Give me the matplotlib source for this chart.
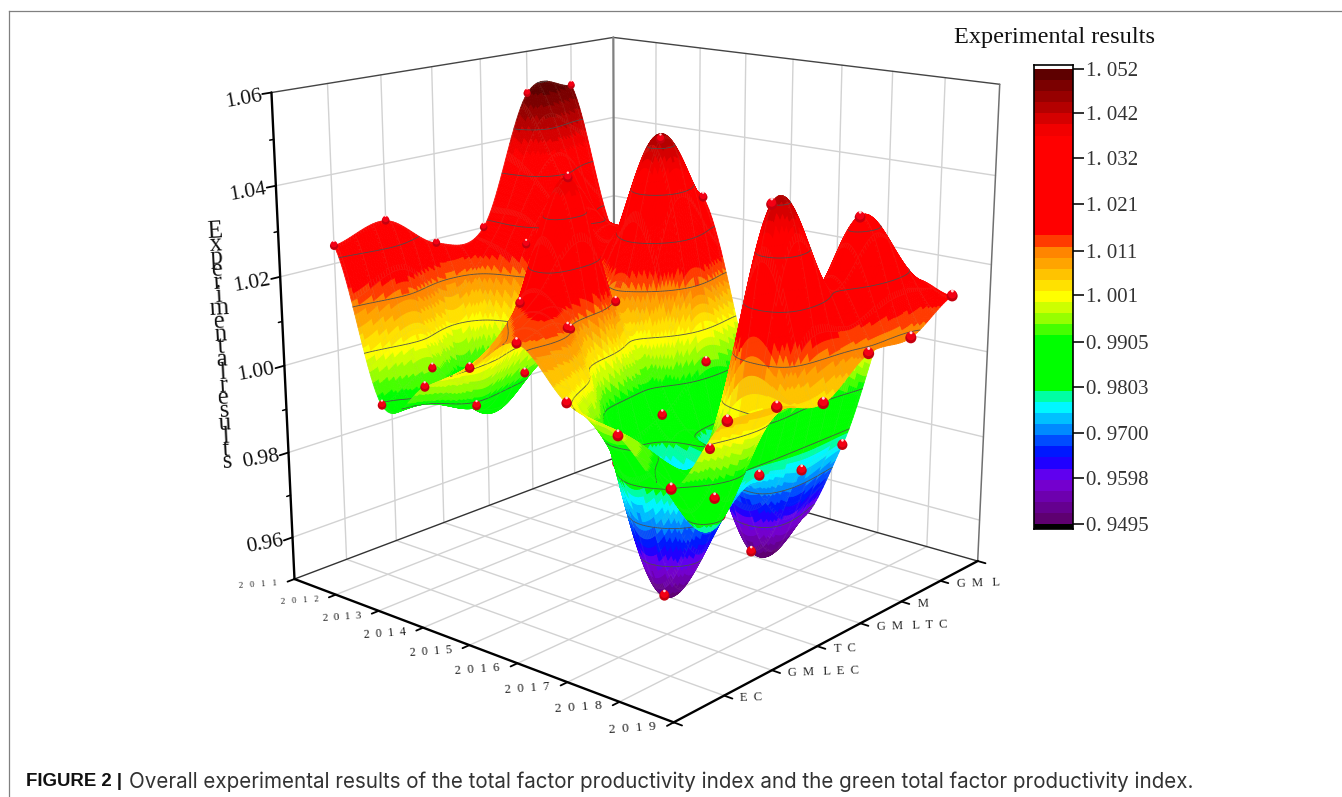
import numpy as np
import matplotlib
matplotlib.use('Agg')
import matplotlib.pyplot as plt
from matplotlib.colors import LinearSegmentedColormap, BoundaryNorm, ListedColormap, to_rgb
from matplotlib.lines import Line2D
from mpl_toolkits.mplot3d import proj3d
from mpl_toolkits.mplot3d.art3d import Poly3DCollection

plt.rcParams['font.family'] = ['Liberation Serif', 'DejaVu Serif']

#--------------data------------------------------------------
years = [2011, 2012, 2013, 2014, 2015, 2016, 2017, 2018, 2019]
categories = ['E  C', 'G  M   L  E  C', 'T  C', 'G  M   L  T  C', 'M', 'G  M   L']
year_labels = ['2   0   1   1', '2   0   1   2', '2  0  1  3', '2  0  1  4', '2  0  1  5',
               '2  0  1  6', '2  0  1  7', '2  0  1  8', '2  0  1  9']
#one row per year, one column per category
values_2011 = [1.024, 1.027, 1.019, 1.020, 1.050, 1.050]
values_2012 = [0.990, 0.995, 0.985, 1.018, 1.030, 1.015]
values_2013 = [0.997, 0.989, 0.993, 1.000, 1.020, 1.020]
values_2014 = [1.004, 1.015, 1.040, 1.009, 1.044, 1.028]
values_2015 = [1.012, 1.012, 0.985, 0.985, 0.994, 0.990]
values_2016 = [1.002, 0.985, 0.950, 0.980, 0.951, 0.955]
values_2017 = [0.998, 0.988, 0.976, 0.977, 0.974, 0.976]
values_2018 = [0.990, 0.980, 1.042, 1.022, 1.034, 1.015]
values_2019 = [1.007, 1.006, 1.003, 1.010, 1.010, 1.016]
#points that the surface covers (year, category number)
covered = [(2012, 3), (2012, 5), (2012, 6), (2013, 5), (2013, 6), (2015, 3), (2015, 6),
           (2016, 2), (2016, 6), (2017, 2), (2018, 2), (2018, 4), (2018, 6)]

z_ticks = [0.96, 0.98, 1.00, 1.02, 1.04, 1.06]
z_tick_labels = ['0.96', '0.98', '1.00', '1.02', '1.04', '1.06']
z_minor = [0.97, 0.99, 1.01, 1.03, 1.05]
cbar_ticks = [1.052, 1.042, 1.032, 1.0215, 1.011, 1.001, 0.9905, 0.9803, 0.970, 0.9598, 0.9495]
cbar_labels = ['1. 052', '1. 042', '1. 032', '1. 021', '1. 011', '1. 001',
               '0. 9905', '0. 9803', '0. 9700', '0. 9598', '0. 9495']
color_stops = [(0.9495, '#5a0060'), (0.9598, '#7a00e6'), (0.9625, '#3000ff'), (0.9645, '#0000ff'),
               (0.970, '#0078ff'), (0.976, '#00ffff'), (0.9785, '#00ff90'), (0.9803, '#00ff00'),
               (0.9912, '#00ff00'), (0.9965, '#b0ff00'), (1.001, '#ffff00'), (1.006, '#ffc000'),
               (1.011, '#ff8000'), (1.0155, '#ff0000'), (1.0372, '#ff0000'), (1.052, '#500000')]

values = np.array([values_2011, values_2012, values_2013, values_2014, values_2015,
                   values_2016, values_2017, values_2018, values_2019])
cat_pos = np.arange(1, len(categories) + 1)

#--------------colours---------------------
lo, hi = color_stops[0][0], color_stops[-1][0]
smooth_cmap = LinearSegmentedColormap.from_list(
    'origin', [((v - lo) / (hi - lo), c) for v, c in color_stops])
bounds = np.linspace(lo, hi, 42)
cmap = ListedColormap(smooth_cmap(((bounds[:-1] + bounds[1:]) / 2 - lo) / (hi - lo)))
norm = BoundaryNorm(bounds, cmap.N, clip=True)


#Catmull-Rom smoothing of the value table, only for the drawn surface
def smooth(a, n):
    t = np.linspace(0, a.shape[0] - 1, (a.shape[0] - 1) * n + 1)
    i = np.minimum(t.astype(int), a.shape[0] - 2)
    u = (t - i)[:, None]
    p0 = a[np.maximum(i - 1, 0)]
    p1 = a[i]
    p2 = a[i + 1]
    p3 = a[np.minimum(i + 2, a.shape[0] - 1)]
    return 0.5 * (2 * p1 + (p2 - p0) * u + (2 * p0 - 5 * p1 + 4 * p2 - p3) * u ** 2
                  + (3 * p1 - p0 - 3 * p2 + p3) * u ** 3)


nx, ny = 30, 20
Z = smooth(smooth(values, nx).T, ny).T
Z = np.clip(Z, 0.9495, None)
xf = np.linspace(years[0], years[-1], Z.shape[0])
yf = np.linspace(cat_pos[0], cat_pos[-1], Z.shape[1])
X, Y = np.meshgrid(xf, yf, indexing='ij')

#--------------figure---------------------
fig = plt.figure(figsize=(13.42, 7.97), dpi=100, facecolor='white')
W, H = 1342.0, 797.0
S = 800.0
ax = fig.add_axes([228.91 / W, 49.36 / H, S / W, S / H], projection='3d', computed_zorder=False)
ELEV, AZIM = 15.9082, -49.4025
ax.set_xlim(2011, 2019, view_margin=0)
ax.set_ylim(0, 7, view_margin=0)
ax.set_zlim(0.95, 1.06, view_margin=0)
ax.view_init(elev=ELEV, azim=AZIM)
ax.set_proj_type('persp', focal_length=0.4967)
ax.set_box_aspect((5.7416, 5.6576, 5.7064), zoom=1.0506)
ax.set_axis_off()

x0, x1, y0, y1, z0, z1 = 2011, 2019, 0, 7, 0.95, 1.06
GRID = '#d2d2d2'


def line3(xs, ys, zs, color=GRID, lw=1.0, zorder=1):
    ax.plot(xs, ys, zs, color=color, lw=lw, zorder=zorder, solid_capstyle='round')


#Text3D ignores rotation, so project the anchor and annotate in 2D
def label3(x, y, z, s, dx, dy, **kw):
    a, b, _ = proj3d.proj_transform(x, y, z, ax.get_proj())
    ax.annotate(s, xy=(a, b), xycoords='data', xytext=(dx, dy), textcoords='offset pixels',
                annotation_clip=False, zorder=5, **kw)


#walls and floor
for y in years[1:-1]:
    line3([y, y], [y0, y1], [z0, z0])
    line3([y, y], [y1, y1], [z0, z1])
for c in cat_pos:
    line3([x0, x1], [c, c], [z0, z0])
    line3([x0, x0], [c, c], [z0, z1])
for z in z_ticks[:-1]:
    line3([x0, x0], [y0, y1], [z, z])
    line3([x0, x1], [y1, y1], [z, z])

#box edges
line3([x0, x0], [y0, y1], [z1, z1], '#444444', 1.0)
line3([x0, x1], [y1, y1], [z1, z1], '#444444', 1.0)
line3([x0, x0], [y1, y1], [z0, z1], '#808080', 1.6)
line3([x1, x1], [y1, y1], [z0, z1], '#707070', 1.1)
line3([x0, x0], [y0, y1], [z0, z0], '#333333', 1.0)
line3([x0, x1], [y1, y1], [z0, z0], '#333333', 1.0)
#black axes
line3([x0, x0], [y0, y0], [z0, z1], 'black', 1.7)
line3([x0, x1], [y0, y0], [z0, z0], 'black', 1.7)
line3([x1, x1], [y0, y1], [z0, z0], 'black', 1.7)
for y in years:
    line3([y, y], [y0, y0 - 0.13], [z0, z0], 'black', 1.3)
for c in [y0] + list(cat_pos) + [y1]:
    line3([x1, x1 + 0.15], [c, c], [z0, z0], 'black', 1.3)
for z in z_ticks:
    line3([x0, x0], [y0, y0 - 0.16], [z, z], 'black', 1.3)
for z in z_minor:
    line3([x0, x0], [y0, y0 - 0.07], [z, z], 'black', 1.1)

#--------------surface---------------------
zm = (Z[:-1, :-1] + Z[1:, :-1] + Z[:-1, 1:] + Z[1:, 1:]) / 4
fc = cmap(norm(zm))
ec = fc.copy()
ii, jj = np.indices(zm.shape)
mesh = (ii % 10 == 0) | (jj % 7 == 0)
ec[mesh, :3] = ec[mesh, :3] * 0.9 + 0.1 * np.array(to_rgb('#b8b890'))
quads = np.stack([
    np.stack([X[:-1, :-1], Y[:-1, :-1], Z[:-1, :-1]], -1),
    np.stack([X[1:, :-1], Y[1:, :-1], Z[1:, :-1]], -1),
    np.stack([X[1:, 1:], Y[1:, 1:], Z[1:, 1:]], -1),
    np.stack([X[:-1, 1:], Y[:-1, 1:], Z[:-1, 1:]], -1)], axis=2).reshape(-1, 4, 3)
fc = fc.reshape(-1, 4)
ec = ec.reshape(-1, 4)

#contour lines go into the same collection so the surface can hide them
tmp = plt.figure()
cs = tmp.add_subplot().contour(X, Y, Z, levels=sorted(cbar_ticks[:-1]))
el, az = np.radians(ELEV), np.radians(AZIM)
toward = 0.008 * np.array([np.cos(el) * np.cos(az) * 8, np.cos(el) * np.sin(az) * 7, np.sin(el) * 0.11])
segs = []
for lev, paths in zip(cs.levels, cs.allsegs):
    for p in paths:
        for a, b in zip(p[:-1], p[1:]):
            pa = np.array([a[0], a[1], lev]) + toward
            pb = np.array([b[0], b[1], lev]) + toward
            segs.append([pa, pb, pb, pa])
plt.close(tmp)
segs = np.array(segs)
seg_col = np.tile(np.array([0.30, 0.30, 0.30, 1.0]), (len(segs), 1))

surf = Poly3DCollection(np.concatenate([quads, segs]),
                        facecolors=np.concatenate([fc, seg_col]),
                        edgecolors=np.concatenate([ec, seg_col]),
                        linewidths=0.6, zsort='average', zorder=3)
ax.add_collection3d(surf, autolim=False)

#--------------points---------------------
px, py, pz, ps, hid = [], [], [], [], []
for i, y in enumerate(years):
    for j, c in enumerate(cat_pos):
        px.append(y)
        py.append(c)
        pz.append(values[i, j])
        ps.append(34 + 4.5 * i - 1.5 * j)
        hid.append((y, c) in covered)
px, py, pz, ps, hid = map(np.array, (px, py, pz, ps, hid))
for mask, zo in [(hid, 2), (~hid, 4)]:
    ax.scatter(px[mask], py[mask], pz[mask], s=ps[mask], c='#c4000e', lw=0, depthshade=False, zorder=zo)
    ax.scatter(px[mask], py[mask], pz[mask] + 0.0004, s=ps[mask] * 0.62, c='#f40014', lw=0,
               depthshade=False, zorder=zo + 0.1)
    ax.scatter(px[mask], py[mask], pz[mask] + 0.0011, s=ps[mask] * 0.07, c='#ffd8d8', lw=0,
               depthshade=False, zorder=zo + 0.2)

#--------------axis text---------------------
year_sizes = [6.5, 6.5, 8, 8.7, 8.7, 9.2, 9.2, 9.7, 9.7]
for y, lab, fs in zip(years, year_labels, year_sizes):
    label3(y, y0, z0, lab, -17, -6, fontsize=fs, rotation=4, ha='right', va='center', color='#222222')
for c, lab in zip(cat_pos, categories):
    label3(x1, c, z0, lab, 16, -2, fontsize=9, rotation=2, ha='left', va='center', color='#222222')
for z, lab in zip(z_ticks, z_tick_labels):
    label3(x0, y0, z, lab, -28, -7, fontsize=15.5, rotation=10, ha='center', va='center', color='#111111')

fig.text(221 / W, 1 - 347 / H, '\n'.join('Experimental results'.replace(' ', '')),
         fontsize=18, linespacing=0.46, rotation=3, ha='center', va='center', multialignment='center',
         color='#111111')

#--------------colour bar---------------------
cax = fig.add_axes([1034 / W, 1 - 529 / H, 39 / W, 464 / H])
cax.pcolormesh([0, 1], bounds, np.array(bounds[:-1])[:, None], cmap=cmap, norm=norm)
top = hi + 4 * 0.0002253
bottom = lo - 5 * 0.0002253
cax.axhspan(bottom, lo, color='black', lw=0)
cax.set_ylim(bottom, top)
cax.set_xlim(0, 1)
cax.set_xticks([])
cax.yaxis.tick_right()
cax.set_yticks(cbar_ticks)
cax.set_yticklabels(cbar_labels, fontsize=15, color='#333333')
cax.tick_params(axis='y', length=8, width=1.3, color='#222222', pad=1.5)
for sp in cax.spines.values():
    sp.set_linewidth(1.2)
fig.text(1054 / W, 1 - 38 / H, 'Experimental results', fontsize=17.5, ha='center', va='center', color='#111111')

#--------------page frame and caption---------------------
fig.add_artist(Line2D([9 / W, 1], [1 - 11 / H, 1 - 11 / H], color='#808080', lw=0.9))
fig.add_artist(Line2D([9 / W, 9 / W], [1 - 11 / H, 0], color='#808080', lw=0.9))

renderer = fig.canvas.get_renderer()
fig.text(26 / W, 1 - 782 / H, 'FIGURE 2 |', family='Liberation Sans', fontweight='bold', fontsize=13.4,
         va='center', color='#111111')
cap = fig.text(129 / W, 1 - 782 / H,
               'Overall experimental results of the total factor productivity index and the green total factor productivity index.',
               family='Inter', fontsize=13.4, va='center', color='#333333')
#the caption has wide tracking, so fit its size to the width it takes in the reference
cap.set_fontsize(13.4 * 1064 / cap.get_window_extent(renderer).width)

fig.savefig('out.png', dpi=100)
